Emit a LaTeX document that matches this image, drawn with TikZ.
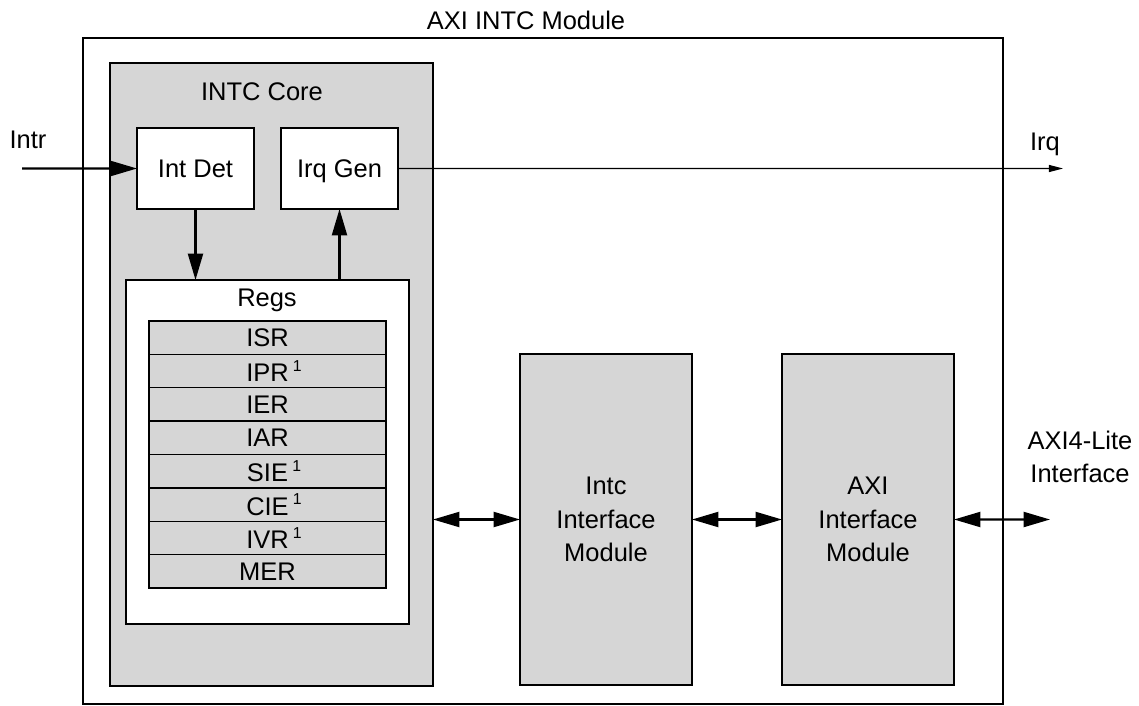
\documentclass[tikz,border=0pt]{standalone}
\usepackage{fontspec}
\setmainfont{Liberation Sans}
\usetikzlibrary{arrows.meta,fit}
\definecolor{blockgray}{RGB}{214,214,214}
\newcommand{\regnote}{\rlap{\,\raisebox{6pt}{\fontsize{9}{9}\selectfont 1}}}
\tikzset{
	box/.style={draw,line width=0.8pt,inner sep=0pt,outer sep=0pt},
	graybox/.style={box,fill=blockgray},
	whitebox/.style={box,fill=white},
	txt/.style={inner sep=0pt,align=center},
	bigarrow/.style={line width=1.3pt,-{Triangle[length=15pt,width=8.5pt]}},
	bothways/.style={line width=1.3pt,{Triangle[length=15pt,width=8.5pt]}-{Triangle[length=15pt,width=8.5pt]}},
	thinarrow/.style={line width=0.6pt,-{Triangle[length=8pt,width=4pt]}},
}
\begin{document}
\begin{tikzpicture}[x=0.02cm,y=-0.02cm,font=\fontsize{14.5}{19}\selectfont]
	\useasboundingbox (0,0) rectangle (1139,706);
	%module
	\node[box,line width=0.7pt,fit={(83,38) (1003,704)}] (axi) {};
	\node[txt] (axilabel) at (526,20) {AXI INTC Module};
	%core
	\node[graybox,fit={(110,63) (433,686)}] (core) {};
	\node[txt] (corelabel) at (262,92) {INTC Core};
	\node[whitebox,fit={(137,128) (254,209)},label={[txt]center:Int Det}] (intdet) {};
	\node[whitebox,fit={(281,128) (398,209)},label={[txt,text depth=0pt]center:Irq Gen}] (irqgen) {};
	\node[whitebox,fit={(126,280) (409,624)}] (regs) {};
	\node[txt] (regslabel) at (267,300) {Regs};
	%register stack
	\foreach \name [count=\i] in {ISR,IPR\regnote,IER,IAR,SIE\regnote,CIE\regnote,IVR\regnote,MER}
		\node[graybox,minimum width=4.74cm,minimum height=0.6675cm] (reg\i) at (267.5,{321+(\i-0.5)*33.375}) {\name};
	%interface modules
	\node[graybox,fit={(520,354) (692,685)},label={[txt]center:Intc\\Interface\\Module}] (intcif) {};
	\node[graybox,fit={(782,354) (954,685)},label={[txt]center:AXI\\Interface\\Module}] (axiif) {};
	%ports
	\coordinate (intrin) at (22,168.5);
	\coordinate (irqout) at (1063,168.5);
	\coordinate (axiout) at (1050,519.5);
	\node[txt] (intrlabel) at (28,140) {Intr};
	\node[txt] (irqlabel) at (1045,144) {Irq};
	\node[txt] (litelabel) at (1080,457) {AXI4-Lite\\Interface};
	%signals
	\draw[bigarrow] (intrin) -- (intdet);
	\draw[bigarrow] (intdet.south) -- (intdet.south |- regs.north);
	\draw[bigarrow] (regs.north -| irqgen.south) -- (irqgen.south);
	\draw[thinarrow] (irqgen.east) -- (irqout);
	\draw[bothways] (core.east |- intcif.west) -- (intcif.west);
	\draw[bothways] (intcif.east) -- (axiif.west);
	\draw[bothways] (axiif.east) -- (axiout);
\end{tikzpicture}
\end{document}
